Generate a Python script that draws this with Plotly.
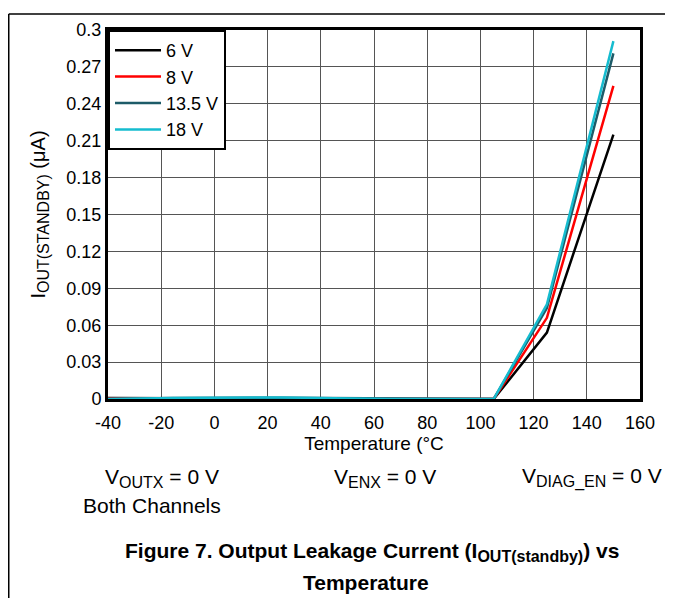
import plotly.graph_objects as go

temperature = [-40, -15, 25, 45, 65, 105, 125, 150]
series_names = ["6 V", "8 V", "13.5 V", "18 V"]
i_6v = [0.0008, 0.0008, 0.0003, 0.0, 0.0, 0.0, 0.054, 0.215]
i_8v = [0.0004, 0.0004, 0.0003, 0.0, 0.0, 0.0, 0.066, 0.2545]
i_13v5 = [0.0, 0.0008, 0.0010, 0.0008, 0.0, 0.0, 0.074, 0.281]
i_18v = [0.0, 0.0009, 0.0013, 0.0009, 0.0, 0.0, 0.077, 0.291]
series_values = [i_6v, i_8v, i_13v5, i_18v]
colors = ["#000000", "#ff0000", "#1d5b68", "#16bccf"]

x_ticks = list(range(-40, 161, 20))
x_tick_labels = [str(v) for v in x_ticks]
y_ticks = [0, 0.03, 0.06, 0.09, 0.12, 0.15, 0.18, 0.21, 0.24, 0.27, 0.3]
y_tick_labels = ["0", "0.03", "0.06", "0.09", "0.12", "0.15", "0.18", "0.21", "0.24", "0.27", "0.3"]

FONT = "Liberation Sans, Arial, sans-serif"

fig = go.Figure()
for name, vals, c in zip(series_names, series_values, colors):
    fig.add_trace(go.Scatter(x=temperature, y=vals, mode="lines", name=name,
                             line=dict(color=c, width=2.5)))

# page shows the figure offset by 8px (body margin)
OFF = 8
W, H = 665, 590
ml, mr, mt, mb = 100, 33, 17, 199
pw, ph = W - ml - mr, H - mt - mb

def px_x(p):
    return (p - OFF - ml) / pw

def px_y(p):
    return (H - mb - (p - OFF)) / ph

fig.update_layout(
    width=W, height=H,
    margin=dict(l=ml, r=mr, t=mt, b=mb),
    paper_bgcolor="white", plot_bgcolor="white",
    font=dict(family=FONT, size=18, color="black"),
    showlegend=True,
    legend=dict(x=0, y=1, xanchor="left", yanchor="top",
                bordercolor="black", borderwidth=2, bgcolor="white",
                font=dict(size=18), tracegroupgap=0,
                itemwidth=46),
    xaxis=dict(range=[-40, 160], tickvals=x_ticks, ticktext=x_tick_labels, ticks="",
               showgrid=True, gridcolor="#555555", gridwidth=1,
               showline=True, linecolor="black", linewidth=3, mirror=True,
               zeroline=False, tickfont=dict(size=18), ticklabelstandoff=5,
               title=dict(text="Temperature (°C", standoff=2, font=dict(size=19))),
    yaxis=dict(range=[0, 0.3], tickvals=y_ticks, ticktext=y_tick_labels, ticks="",
               showgrid=True, gridcolor="#555555", gridwidth=1,
               showline=True, linecolor="black", linewidth=3, mirror=True,
               zeroline=False, tickfont=dict(size=18),
               title=dict(text="I<sub><span style='font-size:16px'>OUT(STANDBY)</span></sub> (μA)",
                          standoff=16, font=dict(size=20))),
)

# page frame lines
fig.add_shape(type="line", xref="paper", yref="paper",
              x0=px_x(8.75), x1=px_x(680), y0=px_y(8.75), y1=px_y(8.75),
              line=dict(color="black", width=1.5))
fig.add_shape(type="line", xref="paper", yref="paper",
              x0=px_x(8.75), x1=px_x(8.75), y0=px_y(8.75), y1=px_y(610),
              line=dict(color="black", width=1.5))

SUB = "<sub><span style='font-size:16px'>%s</span></sub>"
notes = [
    ("V" + SUB % "OUTX" + " = 0 V", 162, 479, False),
    ("Both Channels", 152, 507, False),
    ("V" + SUB % "ENX" + " = 0 V", 385, 479, False),
    ("V" + SUB % "DIAG_EN" + " = 0 V", 592, 479, False),
    ("Figure 7. Output Leakage Current (I" + SUB % "OUT(standby)" + ") vs", 372, 554, True),
    ("Temperature", 366, 585, True),
]
for txt, xp, yp, bold in notes:
    fig.add_annotation(text=("<b>%s</b>" % txt) if bold else txt,
                       xref="paper", yref="paper", x=px_x(xp), y=px_y(yp),
                       xanchor="center", yanchor="middle", showarrow=False,
                       font=dict(family=FONT, size=21, color="black"))

fig.write_html("out.html")
